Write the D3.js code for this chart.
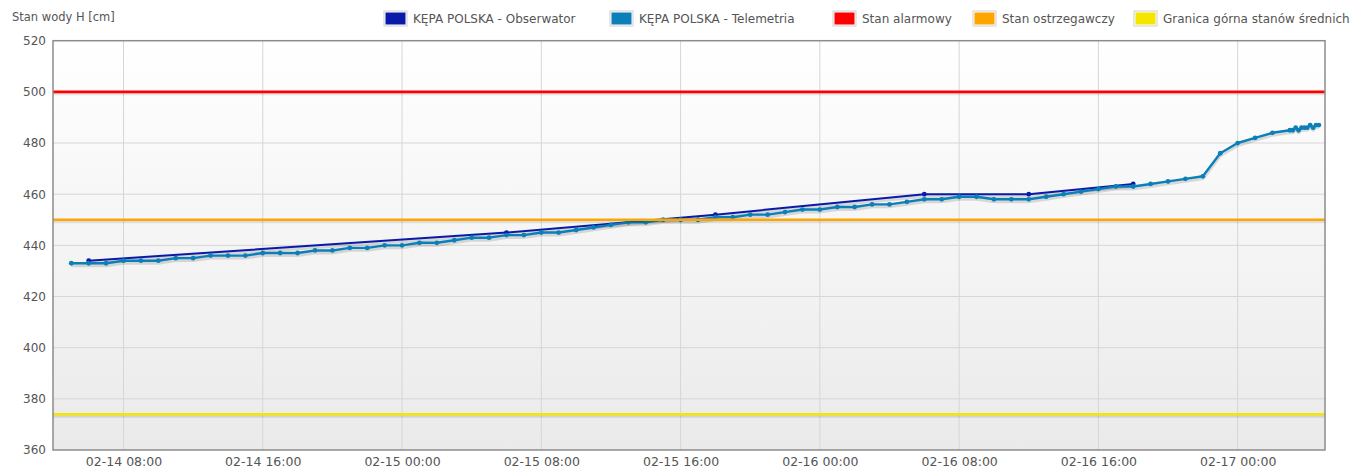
<!DOCTYPE html>
<html>
<head>
<meta charset="utf-8">
<script src="https://cdn.jsdelivr.net/npm/d3@7"></script>
<style>
  body { margin: 0; background: #fff; }
  svg { display: block; font-family: "DejaVu Sans", Verdana, sans-serif; }
</style>
</head>
<body>
<div id="chart"></div>
<script>
// Stan wody - KĘPA POLSKA (obserwator + telemetria)
const obserwator = [
  ["2024-02-14 06:00", 434], ["2024-02-15 06:00", 445], ["2024-02-15 18:00", 452],
  ["2024-02-16 06:00", 460], ["2024-02-16 12:00", 460], ["2024-02-16 18:00", 464]
];

const telemetria = [
  ["2024-02-14 05:00", 433], ["2024-02-14 06:00", 433], ["2024-02-14 07:00", 433],
  ["2024-02-14 08:00", 434], ["2024-02-14 09:00", 434], ["2024-02-14 10:00", 434],
  ["2024-02-14 11:00", 435], ["2024-02-14 12:00", 435], ["2024-02-14 13:00", 436],
  ["2024-02-14 14:00", 436], ["2024-02-14 15:00", 436], ["2024-02-14 16:00", 437],
  ["2024-02-14 17:00", 437], ["2024-02-14 18:00", 437], ["2024-02-14 19:00", 438],
  ["2024-02-14 20:00", 438], ["2024-02-14 21:00", 439], ["2024-02-14 22:00", 439],
  ["2024-02-14 23:00", 440], ["2024-02-15 00:00", 440], ["2024-02-15 01:00", 441],
  ["2024-02-15 02:00", 441], ["2024-02-15 03:00", 442], ["2024-02-15 04:00", 443],
  ["2024-02-15 05:00", 443], ["2024-02-15 06:00", 444], ["2024-02-15 07:00", 444],
  ["2024-02-15 08:00", 445], ["2024-02-15 09:00", 445], ["2024-02-15 10:00", 446],
  ["2024-02-15 11:00", 447], ["2024-02-15 12:00", 448], ["2024-02-15 13:00", 449],
  ["2024-02-15 14:00", 449], ["2024-02-15 15:00", 450], ["2024-02-15 16:00", 450],
  ["2024-02-15 17:00", 450], ["2024-02-15 18:00", 451], ["2024-02-15 19:00", 451],
  ["2024-02-15 20:00", 452], ["2024-02-15 21:00", 452], ["2024-02-15 22:00", 453],
  ["2024-02-15 23:00", 454], ["2024-02-16 00:00", 454], ["2024-02-16 01:00", 455],
  ["2024-02-16 02:00", 455], ["2024-02-16 03:00", 456], ["2024-02-16 04:00", 456],
  ["2024-02-16 05:00", 457], ["2024-02-16 06:00", 458], ["2024-02-16 07:00", 458],
  ["2024-02-16 08:00", 459], ["2024-02-16 09:00", 459], ["2024-02-16 10:00", 458],
  ["2024-02-16 11:00", 458], ["2024-02-16 12:00", 458], ["2024-02-16 13:00", 459],
  ["2024-02-16 14:00", 460], ["2024-02-16 15:00", 461], ["2024-02-16 16:00", 462],
  ["2024-02-16 17:00", 463], ["2024-02-16 18:00", 463], ["2024-02-16 19:00", 464],
  ["2024-02-16 20:00", 465], ["2024-02-16 21:00", 466], ["2024-02-16 22:00", 467],
  ["2024-02-16 23:00", 476], ["2024-02-17 00:00", 480], ["2024-02-17 01:00", 482],
  ["2024-02-17 02:00", 484], ["2024-02-17 03:00", 485], ["2024-02-17 03:10", 485],
  ["2024-02-17 03:20", 486], ["2024-02-17 03:30", 485], ["2024-02-17 03:40", 486],
  ["2024-02-17 03:50", 486], ["2024-02-17 04:00", 486], ["2024-02-17 04:10", 487],
  ["2024-02-17 04:20", 486], ["2024-02-17 04:30", 487], ["2024-02-17 04:40", 487]
];

// threshold levels
const stanAlarmowy = 500;
const stanOstrzegawczy = 450;
const granicaSrednich = 374;

const yTicks = [360, 380, 400, 420, 440, 460, 480, 500, 520];
const xTicks = ["2024-02-14 08:00", "2024-02-14 16:00", "2024-02-15 00:00", "2024-02-15 08:00",
                "2024-02-15 16:00", "2024-02-16 00:00", "2024-02-16 08:00", "2024-02-16 16:00",
                "2024-02-17 00:00"];
const xRange = ["2024-02-14 03:57", "2024-02-17 05:01"];

const legendNames = ["KĘPA POLSKA - Obserwator", "KĘPA POLSKA - Telemetria", "Stan alarmowy",
                     "Stan ostrzegawczy", "Granica górna stanów średnich"];

const colObs = "#0a1aa8", colTel = "#0b7fb8";
const colAlarm = "#ff0000", colWarn = "#ffa500", colMid = "#f5e600";
const legendColors = [colObs, colTel, colAlarm, colWarn, colMid];
const legendX = [384, 610, 833, 973, 1134];   // swatch positions

const width = 1360, height = 468;
const margin = {top: 40.7, right: 35, bottom: 18, left: 53};
const parse = d3.timeParse("%Y-%m-%d %H:%M");

const svg = d3.select("#chart")
  .append("svg")
  .attr("width", width)
  .attr("height", height);

const x = d3.scaleTime()
  .domain(xRange.map(parse))
  .range([margin.left, width - margin.right]);

const y = d3.scaleLinear()
  .domain([360, 520])
  .range([height - margin.bottom, margin.top]);

// plot background gradient
const grad = svg.append("defs").append("linearGradient")
  .attr("id", "bg").attr("x1", 0).attr("x2", 0).attr("y1", 0).attr("y2", 1);
grad.append("stop").attr("offset", "0%").attr("stop-color", "#ffffff");
grad.append("stop").attr("offset", "100%").attr("stop-color", "#eaeaea");

svg.append("rect")
  .attr("x", margin.left)
  .attr("y", margin.top)
  .attr("width", width - margin.left - margin.right)
  .attr("height", height - margin.top - margin.bottom)
  .attr("fill", "url(#bg)");

// grid
svg.append("g")
  .selectAll("line")
  .data(yTicks.slice(1, -1))
  .join("line")
    .attr("x1", margin.left).attr("x2", width - margin.right)
    .attr("y1", d => y(d)).attr("y2", d => y(d))
    .attr("stroke", "#d6d6d6");

svg.append("g")
  .selectAll("line")
  .data(xTicks.map(parse))
  .join("line")
    .attr("x1", d => x(d)).attr("x2", d => x(d))
    .attr("y1", margin.top).attr("y2", height - margin.bottom)
    .attr("stroke", "#d6d6d6");

// axes labels
const yAxis = d3.axisLeft(y).tickValues(yTicks).tickSize(0).tickPadding(7);
svg.append("g")
  .attr("transform", `translate(${margin.left},0)`)
  .call(yAxis)
  .call(g => g.select(".domain").remove())
  .selectAll("text")
    .attr("font-size", "12px")
    .attr("font-family", "DejaVu Sans, sans-serif")
    .attr("fill", "#555");

const xAxis = d3.axisBottom(x)
  .tickValues(xTicks.map(parse))
  .tickFormat(d3.timeFormat("%m-%d %H:%M"))
  .tickSize(0).tickPadding(7);
svg.append("g")
  .attr("transform", `translate(0,${height - margin.bottom})`)
  .call(xAxis)
  .call(g => g.select(".domain").remove())
  .selectAll("text")
    .attr("font-size", "12.5px")
    .attr("font-family", "DejaVu Sans, sans-serif")
    .attr("fill", "#555");

// series
const line = d3.line()
  .x(d => x(parse(d[0])))
  .y(d => y(d[1]));

function drawSeries(data, color, w) {
  // soft shadow
  svg.append("path")
    .datum(data)
    .attr("fill", "none")
    .attr("stroke", "rgba(0,0,0,0.13)")
    .attr("stroke-width", w + 1.5)
    .attr("transform", "translate(0,2)")
    .attr("d", line);
  svg.append("path")
    .datum(data)
    .attr("fill", "none")
    .attr("stroke", color)
    .attr("stroke-width", w)
    .attr("stroke-linejoin", "round")
    .attr("d", line);
  svg.append("g")
    .selectAll("circle")
    .data(data)
    .join("circle")
      .attr("cx", d => x(parse(d[0])))
      .attr("cy", d => y(d[1]))
      .attr("r", 2.4)
      .attr("fill", color);
}

drawSeries(obserwator, colObs, 2);
drawSeries(telemetria, colTel, 2.4);

// threshold lines
[[stanAlarmowy, colAlarm], [stanOstrzegawczy, colWarn], [granicaSrednich, colMid]].forEach(([v, c]) => {
  svg.append("line")
    .attr("x1", margin.left).attr("x2", width - margin.right)
    .attr("y1", y(v) + 2).attr("y2", y(v) + 2)
    .attr("stroke", "rgba(0,0,0,0.1)")
    .attr("stroke-width", 3);
  svg.append("line")
    .attr("x1", margin.left).attr("x2", width - margin.right)
    .attr("y1", y(v)).attr("y2", y(v))
    .attr("stroke", c)
    .attr("stroke-width", 2.6);
});

// frame
svg.append("rect")
  .attr("x", margin.left)
  .attr("y", margin.top)
  .attr("width", width - margin.left - margin.right)
  .attr("height", height - margin.top - margin.bottom)
  .attr("fill", "none")
  .attr("stroke", "#8c8c8c")
  .attr("stroke-width", 1.5);

// y title
svg.append("text")
  .attr("x", 12)
  .attr("y", 21)
  .text("Stan wody H [cm]")
  .attr("font-size", "11.5px")
  .attr("fill", "#555");

// legend
const items = svg.append("g")
  .selectAll("g")
  .data(legendNames)
  .join("g")
    .attr("transform", (d, i) => `translate(${legendX[i]},0)`);
items.append("rect")
  .attr("x", 0).attr("y", 11)
  .attr("width", 23).attr("height", 15)
  .attr("fill", "#fff")
  .attr("stroke", "#cfcfcf");
items.append("rect")
  .attr("x", 1.5).attr("y", 12.5)
  .attr("width", 20).attr("height", 12)
  .attr("fill", (d, i) => legendColors[i]);
items.append("text")
  .attr("x", 29).attr("y", 23)
  .text(d => d)
  .attr("font-size", "12px")
  .attr("fill", "#555");
</script>
</body>
</html>
